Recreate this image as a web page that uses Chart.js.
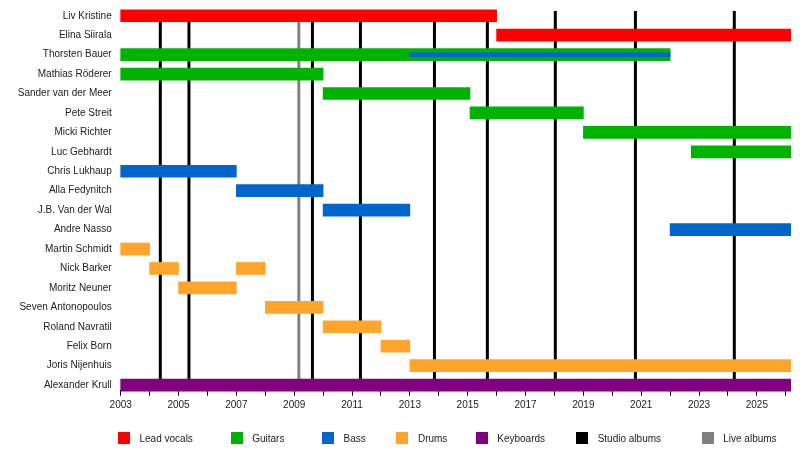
<!DOCTYPE html>
<html>
<head>
<meta charset="utf-8">
<title>Leaves' Eyes timeline</title>
<script src="https://cdn.jsdelivr.net/npm/chart.js@4/dist/chart.umd.min.js"></script>
<style>
  html, body { margin: 0; padding: 0; background: #fff; }
  #wrap { position: relative; width: 800px; height: 450px; }
  #legend {
    position: absolute; left: 118px; top: 432px;
    display: flex; margin: 0; padding: 0; list-style: none;
    font: 10px 'Liberation Sans', Arial, sans-serif; color: #222;
  }
  #legend li { display: flex; align-items: center; height: 12px; white-space: nowrap; }
  #legend li:nth-child(1) { margin-right: 37.8px; }
  #legend li:nth-child(2) { margin-right: 37.6px; }
  #legend li:nth-child(3) { margin-right: 30.7px; }
  #legend li:nth-child(4) { margin-right: 28.4px; }
  #legend li:nth-child(5) { margin-right: 31.1px; }
  #legend li:nth-child(6) { margin-right: 40.7px; }
  #legend .box { width: 12px; height: 12px; margin-right: 9.5px; }
</style>
</head>
<body>
<div id="wrap">
  <canvas id="timeline" width="800" height="450"></canvas>
  <ul id="legend"></ul>
</div>
<script>
//! =============== Data =============== //
const members = ['Liv Kristine', 'Elina Siirala', 'Thorsten Bauer', 'Mathias Röderer', 'Sander van der Meer',
  'Pete Streit', 'Micki Richter', 'Luc Gebhardt', 'Chris Lukhaup', 'Alla Fedynitch', 'J.B. Van der Wal',
  'Andre Nasso', 'Martin Schmidt', 'Nick Barker', 'Moritz Neuner', 'Seven Antonopoulos', 'Roland Navratil',
  'Felix Born', 'Joris Nijenhuis', 'Alexander Krull'];

const startYear = 2003;
const endYear = 2026.17;
const yearLabels = ['2003', '2005', '2007', '2009', '2011', '2013', '2015', '2017', '2019', '2021', '2023', '2025'];

// [member, from, to]
const leadVocals = [['Liv Kristine', 2003, 2016], ['Elina Siirala', 2016, endYear]];
const guitars = [['Thorsten Bauer', 2003, 2022], ['Mathias Röderer', 2003, 2010], ['Sander van der Meer', 2010, 2015.08],
  ['Pete Streit', 2015.08, 2019], ['Micki Richter', 2019, endYear], ['Luc Gebhardt', 2022.73, endYear]];
const bass = [['Chris Lukhaup', 2003, 2007], ['Alla Fedynitch', 2007, 2010], ['J.B. Van der Wal', 2010, 2013],
  ['Andre Nasso', 2022, endYear]];
const bassSecondary = [['Thorsten Bauer', 2013, 2022]];
const drums = [['Martin Schmidt', 2003, 2004], ['Nick Barker', 2004, 2005], ['Nick Barker', 2007, 2008],
  ['Moritz Neuner', 2005, 2007], ['Seven Antonopoulos', 2008, 2010], ['Roland Navratil', 2010, 2012],
  ['Felix Born', 2012, 2013], ['Joris Nijenhuis', 2013, endYear]];
const keyboards = [['Alexander Krull', 2003, endYear]];

const studioAlbums = [2004.37, 2005.36, 2009.63, 2011.29, 2013.85, 2015.68, 2018.03, 2020.8, 2024.22];
const liveAlbums = [2009.16];


//! =============== Styles =============== //
const colors = {
  vocals: '#ff0000',
  guitars: '#00b300',
  bass: '#0066cc',
  drums: '#ffa52c',
  keyboards: '#800080',
  studio: '#000000',
  live: '#808080'
};
const font = { family: "'Liberation Sans', Arial, sans-serif", size: 10 };

const legendEntries = [
  ['Lead vocals', colors.vocals], ['Guitars', colors.guitars], ['Bass', colors.bass], ['Drums', colors.drums],
  ['Keyboards', colors.keyboards], ['Studio albums', colors.studio], ['Live albums', colors.live]
];

function toBars(rows) {
  return rows.map(r => ({ x: [r[1], r[2]], y: members.indexOf(r[0]) }));
}

function roleSet(label, rows, color, thickness, order) {
  return {
    label: label,
    data: toBars(rows),
    backgroundColor: color,
    borderWidth: 0,
    barThickness: thickness,
    grouped: false,
    clip: false,
    order: order
  };
}


//! =============== Plugins =============== //
const albumLines = {
  id: 'albumLines',
  beforeDatasetsDraw(chart) {
    const { ctx, chartArea, scales } = chart;
    const draw = (years, color) => {
      ctx.save();
      ctx.strokeStyle = color;
      ctx.lineWidth = 3;
      years.forEach(y => {
        const px = scales.x.getPixelForValue(y);
        ctx.beginPath();
        ctx.moveTo(px, chartArea.top);
        ctx.lineTo(px, chartArea.bottom);
        ctx.stroke();
      });
      ctx.restore();
    };
    draw(studioAlbums, colors.studio);
    draw(liveAlbums, colors.live);
  }
};

const htmlLegend = {
  id: 'htmlLegend',
  afterUpdate() {
    const list = document.getElementById('legend');
    list.innerHTML = '';
    legendEntries.forEach(e => {
      const li = document.createElement('li');
      const box = document.createElement('span');
      box.className = 'box';
      box.style.background = e[1];
      li.appendChild(box);
      li.appendChild(document.createTextNode(e[0]));
      list.appendChild(li);
    });
  }
};


//! =============== Chart.JS =============== //
const ctx = document.getElementById('timeline').getContext('2d');

const timeline = new Chart(ctx, {
  type: 'bar',
  data: {
    datasets: [
      roleSet('Lead vocals', leadVocals, colors.vocals, 12, 1),
      roleSet('Guitars', guitars, colors.guitars, 12, 1),
      roleSet('Bass', bass, colors.bass, 12, 1),
      roleSet('Bass (2nd)', bassSecondary, colors.bass, 4, -1),
      roleSet('Drums', drums, colors.drums, 12, 1),
      roleSet('Keyboards', keyboards, colors.keyboards, 12, 1)
    ]
  },
  options: {
    indexAxis: 'y',
    responsive: false,
    animation: false,
    layout: { padding: { left: 0, right: 9.3, top: 10.9, bottom: 29.3 } },
    plugins: {
      tooltip: { enabled: false },
      legend: { display: false }
    },
    scales: {
      x: {
        type: 'linear',
        min: startYear,
        max: endYear,
        border: { display: true, color: '#000', width: 1 },
        grid: { drawOnChartArea: false, drawTicks: true, tickLength: 5, color: '#000' },
        ticks: {
          stepSize: 1,
          autoSkip: false,
          includeBounds: false,
          maxRotation: 0,
          padding: 4,
          color: '#222',
          font: font,
          callback: v => yearLabels.includes(String(v)) ? String(v) : ''
        },
        afterFit: s => { s.height = 30; s.paddingLeft = 0; s.paddingRight = 0; }
      },
      y: {
        type: 'linear',
        reverse: true,
        offset: false,
        min: -0.25,
        max: 19.29,
        border: { display: false },
        grid: { display: false, drawTicks: false, offset: false },
        ticks: {
          stepSize: 1,
          autoSkip: false,
          includeBounds: false,
          padding: 9,
          color: '#222',
          font: font,
          callback: v => members[v] ?? ''
        },
        afterFit: s => { s.width = 120.7; s.paddingTop = 0; s.paddingBottom = 0; }
      }
    }
  },
  plugins: [albumLines, htmlLegend]
});
</script>
</body>
</html>
